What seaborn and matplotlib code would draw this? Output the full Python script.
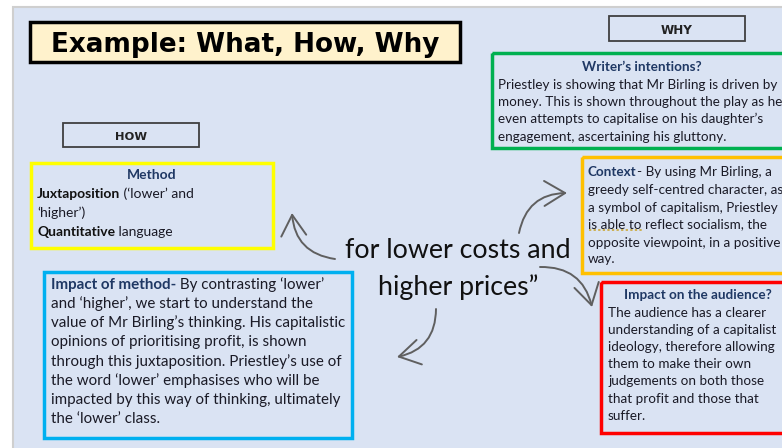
import matplotlib
matplotlib.use("Agg")
import matplotlib.pyplot as plt
import seaborn as sns
from matplotlib.patches import Rectangle, FancyArrowPatch

sns.set_theme(style="white")
plt.rcParams['font.family'] = ['Lato', 'DejaVu Sans']

# ---------------- content ----------------
TITLE = "Example: What, How, Why"
HOW_LABEL = "HOW"
WHY_LABEL = "WHY"
QUOTE_LINES = ["for lower costs and", "higher prices\u201d"]

WRITER_HEAD = "Writer\u2019s intentions?"
WRITER_LINES = [
    "Priestley is showing that Mr Birling is driven by",
    "money. This is shown throughout the play as he",
    "even attempts to capitalise on his daughter\u2019s",
    "engagement, ascertaining his gluttony.",
]

METHOD_HEAD = "Method"
METHOD_LINES = [
    [("Juxtaposition", True), (" (\u2018lower\u2019 and", False)],
    [("\u2018higher\u2019)", False)],
    [("Quantitative", True), (" language", False)],
]

IMPACT_METHOD_LINES = [
    [("Impact of method-", True), (" By contrasting \u2018lower\u2019", False)],
    [("and \u2018higher\u2019, we start to understand the", False)],
    [("value of Mr Birling\u2019s thinking. His capitalistic", False)],
    [("opinions of prioritising profit, is shown", False)],
    [("through this juxtaposition. Priestley\u2019s use of", False)],
    [("the word \u2018lower\u2019 emphasises who will be", False)],
    [("impacted by this way of thinking, ultimately", False)],
    [("the \u2018lower\u2019 class.", False)],
]

CONTEXT_LINES = [
    [("Context", True), ("- By using Mr Birling, a", False)],
    [("greedy self-centred character, as", False)],
    [("a symbol of capitalism, Priestley", False)],
    [("is able to reflect socialism, the", False)],
    [("opposite viewpoint, in a positive", False)],
    [("way.", False)],
]

AUDIENCE_HEAD = "Impact on the audience?"
AUDIENCE_LINES = [
    "The audience has a clearer",
    "understanding of a capitalist",
    "ideology, therefore allowing",
    "them to make their own",
    "judgements on both those",
    "that profit and those that",
    "suffer.",
]

# ---------------- style ----------------
BG = "#dae3f3"
NAVY = "#1f3864"
BODY = "#1a1a26"
ARROW = "#5f5f5f"

fig = plt.figure(figsize=(7.82, 4.48), dpi=100)
fig.patch.set_facecolor("white")
ax = fig.add_axes([0, 0, 1, 1])
ax.set_xlim(0, 782)
ax.set_ylim(448, 0)
ax.axis("off")
fig.canvas.draw()
R = fig.canvas.get_renderer()

PT = 72 / 100.0  # px -> pt


def width_of(s, size, bold, family=None):
    kw = {}
    if family:
        kw["family"] = family
    t = ax.text(0, 0, s, fontsize=size, fontweight="bold" if bold else "normal", **kw)
    w = t.get_window_extent(R).width
    t.remove()
    return w


def fit(s, target, bold=False, family=None):
    return 10 * target / width_of(s, 10, bold, family)


def runs(x, cy, parts, size, bold_color=BODY, color=BODY):
    cur = x
    base = cy + 0.34 * size / PT
    for s, b in parts:
        t = ax.text(cur, base, s, fontsize=size, fontweight="bold" if b else "normal",
                    color=bold_color if b else color, va="baseline", ha="left")
        cur += t.get_window_extent(R).width
    return cur


# slide
ax.add_patch(Rectangle((13, 7), 800, 460, facecolor=BG, edgecolor="#cfcfcf", lw=1.5))

# title
ax.add_patch(Rectangle((30, 22), 430, 40, facecolor="#fff2cc", edgecolor="black", lw=2.5))
ts = fit(TITLE, 388, True, "DejaVu Sans")
ax.text(245, 42, TITLE, fontsize=ts, fontweight="bold", family="DejaVu Sans",
        ha="center", va="center_baseline", color="black")

# HOW / WHY labels
ax.add_patch(Rectangle((63, 123), 136, 24, facecolor="none", edgecolor="#404040", lw=1.3))
hs = fit(HOW_LABEL, 32, True, "DejaVu Sans")
ax.text(131, 135.5, HOW_LABEL, fontsize=hs, fontweight="bold", family="DejaVu Sans",
        ha="center", va="center_baseline", color="#222222")
ax.add_patch(Rectangle((609, 16), 136, 25, facecolor="none", edgecolor="#404040", lw=1.3))
wys = fit(WHY_LABEL, 32, True, "DejaVu Sans")
ax.text(677, 28.5, WHY_LABEL, fontsize=wys, fontweight="bold", family="DejaVu Sans",
        ha="center", va="center_baseline", color="#222222")

# writer's intentions (green)
ax.add_patch(Rectangle((492, 53), 320, 95, facecolor="none", edgecolor="#00b050", lw=2.5))
ws = fit(WRITER_LINES[0], 277)
ax.text(642, 66 + 0.34 * ws / PT, WRITER_HEAD, fontsize=ws, fontweight="bold", color=NAVY,
        ha="center", va="baseline")
for i, line in enumerate(WRITER_LINES):
    runs(498, 84 + i * 17.4, [(line, False)], ws)

# method (yellow)
ax.add_patch(Rectangle((31, 163), 242, 85, facecolor="none", edgecolor="#ffff00", lw=2.5))
ms = ws * 1.03
ax.text(152, 174 + 0.34 * ms / PT, METHOD_HEAD, fontsize=ms, fontweight="bold", color=NAVY,
        ha="center", va="baseline")
for i, parts in enumerate(METHOD_LINES):
    runs(37, 193 + i * 19.2, parts, ms, bold_color="#111111")

# impact of method (blue)
ax.add_patch(Rectangle((44, 272), 308, 166, facecolor="none", edgecolor="#00b0f0", lw=2.5))
ims = fit(IMPACT_METHOD_LINES[2][0][0], 292)
for i, parts in enumerate(IMPACT_METHOD_LINES):
    runs(51, 284 + i * 19.1, parts, ims, bold_color=NAVY)

# context (orange)
ax.add_patch(Rectangle((582, 157), 240, 116, facecolor="none", edgecolor="#ffc000", lw=2.5))
cs = fit(CONTEXT_LINES[2][0][0], 189)
cys = [171, 189, 207, 224, 242, 258]
for cy, parts in zip(cys, CONTEXT_LINES):
    runs(588, cy, parts, cs, bold_color=NAVY)
ulen = width_of("is able to", cs, False)
ax.plot([589, 589 + ulen], [230, 230], color="#c9a227", lw=1.1, ls=(0, (1.5, 1.5)))

# audience (red)
ax.add_patch(Rectangle((601, 282), 220, 151, facecolor="none", edgecolor="#ff0000", lw=2.5))
aus = fit(AUDIENCE_LINES[1], 168)
ax.text(698, 294 + 0.34 * aus / PT, AUDIENCE_HEAD, fontsize=aus, fontweight="bold", color=NAVY,
        ha="center", va="baseline")
for i, line in enumerate(AUDIENCE_LINES):
    runs(608, 312 + i * 17.2, [(line, False)], aus)

# central quote
qs = fit(QUOTE_LINES[0], 226)
ax.text(458, 248, QUOTE_LINES[0], fontsize=qs, ha="center", va="center_baseline", color="#111111")
ax.text(458, 285, QUOTE_LINES[1], fontsize=qs, ha="center", va="center_baseline", color="#111111")

# arrows
ARROWS = [((335, 259), (292, 213)),
          ((519, 233), (567, 193)),
          ((540, 267), (592, 307)),
          ((436, 309), (397, 357))]
for a, b in ARROWS:
    ax.add_patch(FancyArrowPatch(a, b, connectionstyle="arc3,rad=-0.4",
                                 arrowstyle="->,head_length=0.75,head_width=0.45",
                                 mutation_scale=20, color=ARROW, lw=1.4,
                                 shrinkA=0, shrinkB=0))

fig.savefig("out.png", dpi=100, facecolor=fig.get_facecolor())
